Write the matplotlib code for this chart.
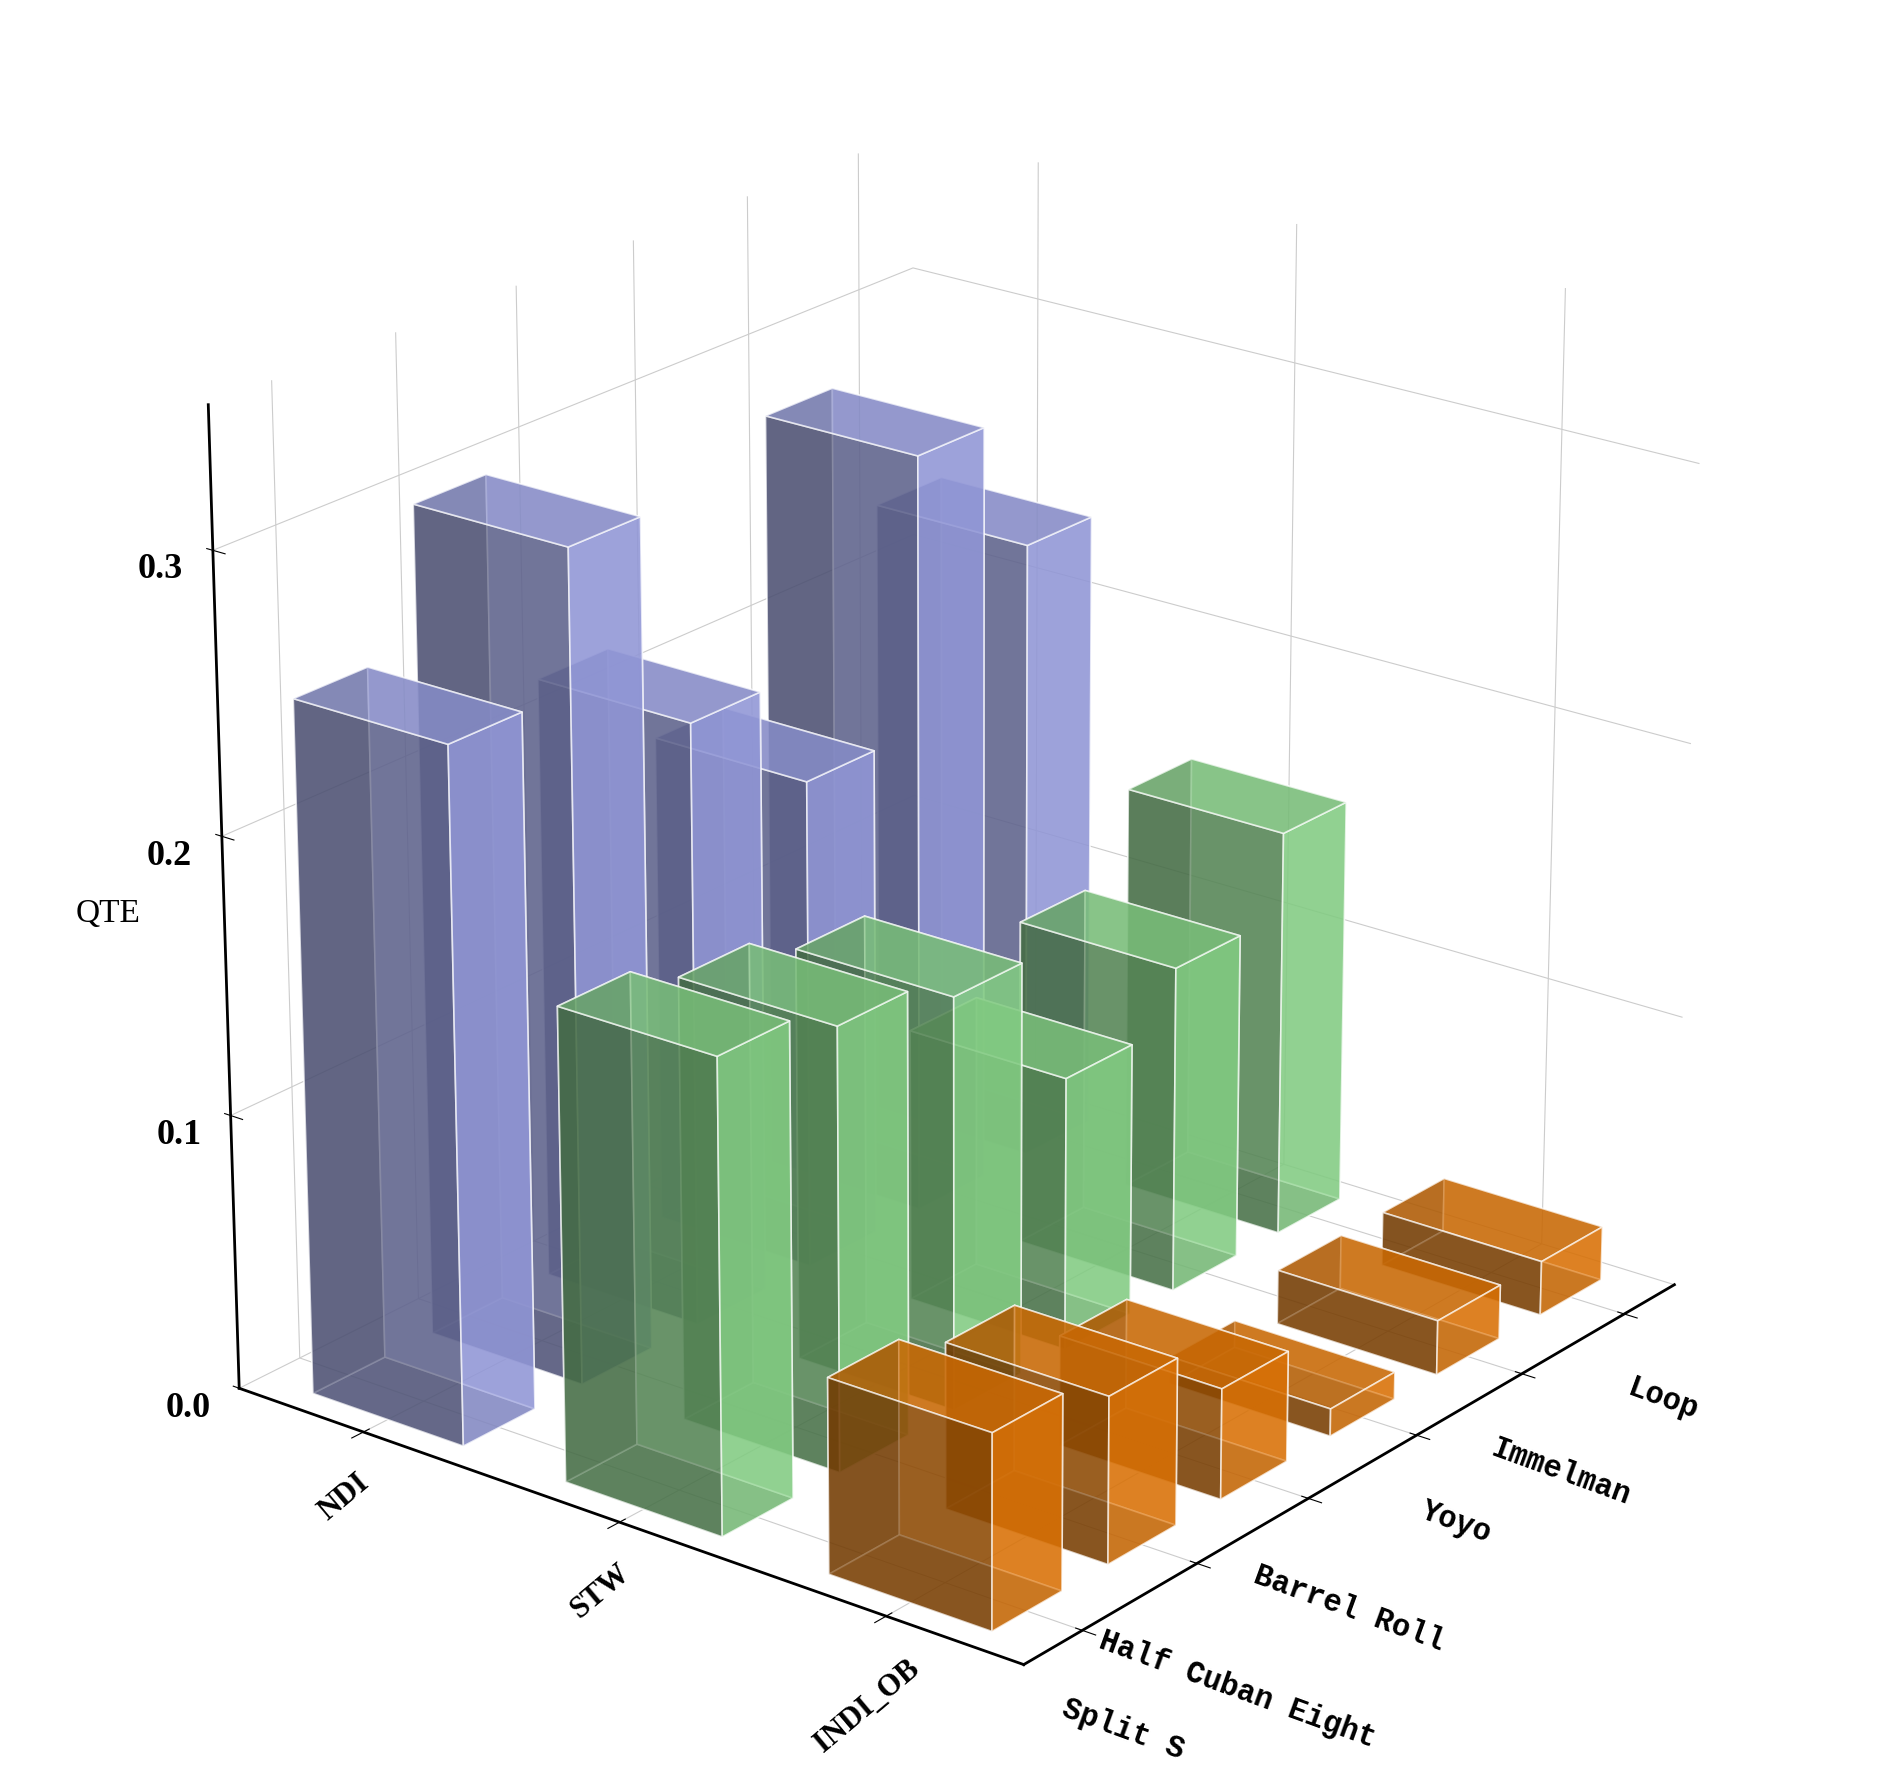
import matplotlib.pyplot as plt
from matplotlib.colors import LightSource
import numpy as np

methods = ['NDI', 'STW', 'INDI_OB']
maneuvers = ['Split S', 'Half Cuban Eight', 'Barrel Roll', 'Yoyo', 'Immelman', 'Loop']
qte_ndi = [0.25, 0.30, 0.22, 0.18, 0.28, 0.23]
qte_stw = [0.17, 0.16, 0.15, 0.10, 0.12, 0.15]
qte_indi_ob = [0.07, 0.06, 0.04, 0.01, 0.02, 0.02]
colors = ['#a3aaf2', '#93e693', '#f57f05']

fig = plt.figure(figsize=(18.83, 17.66), dpi=100)
ax = fig.add_subplot(111, projection='3d')
ax.view_init(elev=22, azim=-52)

ls = LightSource(azdeg=60, altdeg=30)
w = 0.6
for i, vals in enumerate([qte_ndi, qte_stw, qte_indi_ob]):
    for j, v in enumerate(vals):
        ax.bar3d(i - w / 2, j - w / 2, 0, w, w, v, color=colors[i], alpha=0.65,
                 edgecolor='white', linewidth=1.2, shade=True, lightsource=ls)

ax.set_xlim(-0.5, 2.5)
ax.set_ylim(-0.5, 5.5)
ax.set_zlim(0, 0.35)
ax.set_xticks(range(len(methods)))
ax.set_xticklabels(methods, rotation=40, fontsize=22, family='Liberation Serif', fontweight='bold')
ax.set_yticks(range(len(maneuvers)))
ax.set_yticklabels(maneuvers, rotation=-20, fontsize=22, family='Liberation Mono', fontweight='bold')
ax.set_zticks([0.0, 0.1, 0.2, 0.3])
ax.set_zticklabels(['0.0', '0.1', '0.2', '0.3'], fontsize=26, family='Liberation Serif', fontweight='bold')
ax.zaxis._axinfo['juggled'] = (1, 2, 0)
ax.set_zlabel('QTE', fontsize=24, family='Liberation Serif', labelpad=30)
for a in (ax.xaxis, ax.yaxis, ax.zaxis):
    a.set_pane_color((1, 1, 1, 0))
    a._axinfo['grid']['color'] = (0.8, 0.8, 0.8, 1)
    a.line.set_linewidth(2)
ax.tick_params(axis='y', pad=25)
ax.tick_params(axis='x', pad=10)
ax.tick_params(axis='z', pad=15)
ax.set_box_aspect((1, 1.1, 1.05))
plt.subplots_adjust(left=0, right=1, bottom=0, top=1)
plt.savefig('out.png', dpi=100)
